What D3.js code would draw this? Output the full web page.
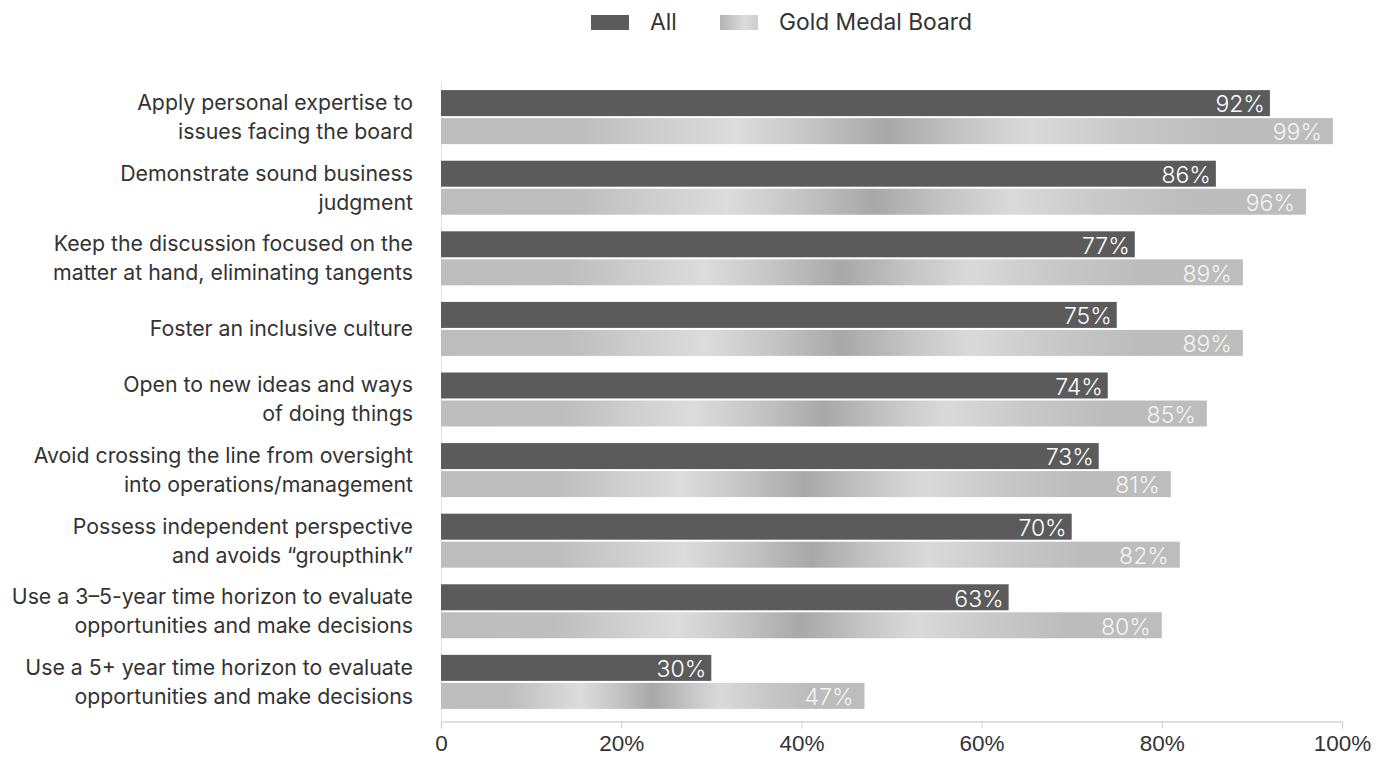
<!DOCTYPE html>
<html>
<head>
<meta charset="utf-8">
<script src="https://cdn.jsdelivr.net/npm/d3@7"></script>
<style>
  html, body { margin: 0; padding: 0; background: #fff; }
  svg { display: block; font-family: Inter, "Noto Sans", sans-serif; }
</style>
</head>
<body>
<svg id="chart" width="1392" height="758"></svg>
<script>
// Board-member behaviours: share of "All" boards vs "Gold Medal Board"
const categories = [
  ["Apply personal expertise to", "issues facing the board"],
  ["Demonstrate sound business", "judgment"],
  ["Keep the discussion focused on the", "matter at hand, eliminating tangents"],
  ["Foster an inclusive culture"],
  ["Open to new ideas and ways", "of doing things"],
  ["Avoid crossing the line from oversight", "into operations/management"],
  ["Possess independent perspective", "and avoids \u201cgroupthink\u201d"],
  ["Use a 3\u20135-year time horizon to evaluate", "opportunities and make decisions"],
  ["Use a 5+ year time horizon to evaluate", "opportunities and make decisions"]
];
const allValues  = [92, 86, 77, 75, 74, 73, 70, 63, 30];
const goldValues = [99, 96, 89, 89, 85, 81, 82, 80, 47];
const seriesNames = ["All", "Gold Medal Board"];
const tickValues = [0, 20, 40, 60, 80, 100];
const tickLabels = ["0", "20%", "40%", "60%", "80%", "100%"];

const svg = d3.select("#chart");
const plot = { left: 441, right: 1342, top: 82, bottom: 717, axisY: 721 };

const x = d3.scaleLinear().domain([0, 100]).range([plot.left, plot.right]);
const y = d3.scaleBand()
  .domain(d3.range(categories.length))
  .range([plot.top, plot.bottom])
  .paddingInner(0.235)
  .paddingOuter(0.115);

// Metallic gradients for the Gold Medal Board bars and legend swatch
const defs = svg.append("defs");
const metal = defs.append("linearGradient").attr("id", "metal")
  .attr("x1", "0%").attr("x2", "100%").attr("y1", "0%").attr("y2", "0%");
[[0, "#bdbdbd"], [0.16, "#bebebe"], [0.24, "#cdcdcd"], [0.33, "#dcdcdc"],
 [0.41, "#c6c6c6"], [0.5, "#a8a8a8"], [0.58, "#c3c3c3"], [0.66, "#dadada"],
 [0.76, "#c9c9c9"], [0.87, "#bcbcbc"], [1, "#bdbdbd"]]
  .forEach(([o, c]) => metal.append("stop").attr("offset", o).attr("stop-color", c));

const swatch = defs.append("linearGradient").attr("id", "metalSwatch")
  .attr("x1", "0%").attr("x2", "100%").attr("y1", "0%").attr("y2", "0%");
[[0, "#b4b4b4"], [0.65, "#dcdcdc"], [1, "#cdcdcd"]]
  .forEach(([o, c]) => swatch.append("stop").attr("offset", o).attr("stop-color", c));

const barH = y.bandwidth() / 2 - 1;

// Axis
const axis = d3.axisBottom(x).tickValues(tickValues)
  .tickFormat((d, i) => tickLabels[i]).tickSize(7).tickPadding(7);
const gAxis = svg.append("g").attr("transform", `translate(0,${plot.axisY + 0.5})`).call(axis);
gAxis.select(".domain").attr("stroke", "#d6d6d6").attr("stroke-width", 1.3);
gAxis.selectAll(".tick line").attr("stroke", "#cfcfcf");
gAxis.selectAll(".tick text").attr("fill", "#333").style("font-size", "22.5px").style("font-weight", 300);

// Vertical baseline
svg.append("line")
  .attr("x1", x(0) + 0.5).attr("x2", x(0) + 0.5)
  .attr("y1", plot.top).attr("y2", plot.axisY)
  .attr("stroke", "#e3e3e3");

const groups = svg.append("g").selectAll("g").data(categories).join("g")
  .attr("transform", (d, i) => `translate(0,${y(i)})`);

groups.append("rect")
  .attr("x", x(0)).attr("y", 0)
  .attr("width", (d, i) => x(allValues[i]) - x(0)).attr("height", barH)
  .attr("fill", "#5b5b5b");

groups.append("rect")
  .attr("x", x(0)).attr("y", barH + 2)
  .attr("width", (d, i) => x(goldValues[i]) - x(0)).attr("height", barH)
  .attr("fill", "url(#metal)");

groups.append("text")
  .attr("x", (d, i) => x(allValues[i]) - 5)
  .attr("y", barH / 2 + 1)
  .attr("dy", "0.36em")
  .attr("text-anchor", "end")
  .attr("fill", "#fff").style("font-size", "23px").style("font-weight", 300)
  .text((d, i) => allValues[i] + "%");

groups.append("text")
  .attr("x", (d, i) => x(goldValues[i]) - 11)
  .attr("y", barH + 2 + barH / 2 + 1)
  .attr("dy", "0.36em")
  .attr("text-anchor", "end")
  .attr("fill", "#f4f4f4").style("font-size", "23px").style("font-weight", 300)
  .text((d, i) => goldValues[i] + "%");

// Category labels
const lineH = 29;
groups.append("text")
  .attr("text-anchor", "end")
  .attr("fill", "#333").style("font-size", "21.3px").style("font-weight", 400)
  .each(function(d) {
    const t = d3.select(this);
    const mid = y.bandwidth() / 2;
    d.forEach((line, k) => {
      t.append("tspan")
        .attr("x", 413)
        .attr("y", mid + (k - (d.length - 1) / 2) * lineH)
        .attr("dy", "0.35em")
        .text(line);
    });
  });

// Legend
const legend = svg.append("g");
const legendItems = [
  { name: seriesNames[0], fill: "#5b5b5b", sx: 591, tx: 650 },
  { name: seriesNames[1], fill: "url(#metalSwatch)", sx: 720, tx: 779 }
];
legend.selectAll("rect").data(legendItems).join("rect")
  .attr("x", d => d.sx).attr("y", 15).attr("width", 38).attr("height", 15)
  .attr("fill", d => d.fill);
legend.selectAll("text").data(legendItems).join("text")
  .attr("x", d => d.tx).attr("y", 22).attr("dy", "0.36em")
  .attr("fill", "#333").style("font-size", "22.8px").style("font-weight", 400)
  .text(d => d.name);
</script>
</body>
</html>
